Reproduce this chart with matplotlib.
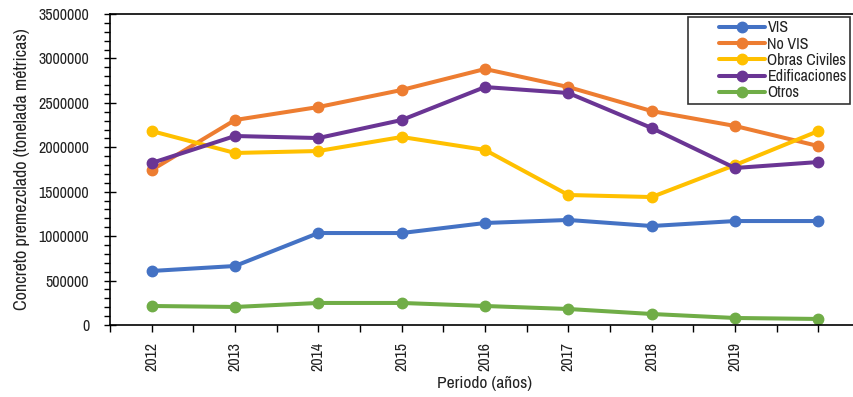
import matplotlib
matplotlib.use("Agg")
import matplotlib.pyplot as plt
from matplotlib.ticker import MultipleLocator, FixedLocator, FuncFormatter
from matplotlib.legend_handler import HandlerLine2D
import numpy as np

plt.rcParams['font.family'] = ["Archivo Narrow", "Roboto Condensed", "DejaVu Sans"]

years = ["2012", "2013", "2014", "2015", "2016", "2017", "2018", "2019", ""]
vis = [608000, 664000, 1035000, 1035000, 1148000, 1182000, 1114000, 1170000, 1170000]
no_vis = [1744000, 2307000, 2453000, 2645000, 2881000, 2678000, 2408000, 2240000, 2014000]
obras = [2183000, 1936000, 1958000, 2116000, 1970000, 1463000, 1440000, 1800000, 2183000]
edif = [1823000, 2127000, 2104000, 2307000, 2678000, 2611000, 2217000, 1767000, 1834000]
otros = [214000, 203000, 248000, 248000, 214000, 180000, 124000, 79000, 68000]

series = [("VIS", vis, "#4472C4"), ("No VIS", no_vis, "#ED7D31"),
          ("Obras Civiles", obras, "#FFC000"), ("Edificaciones", edif, "#6A3594"),
          ("Otros", otros, "#70AD47")]


class RightHandler(HandlerLine2D):
    def get_xdata(self, legend, xdescent, ydescent, width, height, fontsize):
        start = -xdescent + 0.38 * width
        end = -xdescent + width
        return np.array([start, end]), np.array([(start + end) / 2])


fig = plt.figure(figsize=(8.54, 3.97), dpi=100)
ax = fig.add_axes([110/854, 72/397, 750/854, 311/397])
x = list(range(len(years)))
for name, vals, c in series:
    ax.plot(x, vals, color=c, lw=2.9, marker="o", ms=7.5, label=name, solid_capstyle="round")

ax.set_xlim(-0.5, 8.5)
ax.set_ylim(0, 3500000)
ax.yaxis.set_major_locator(MultipleLocator(500000))
ax.yaxis.set_minor_locator(MultipleLocator(100000))
ax.yaxis.set_major_formatter(FuncFormatter(lambda v, p: f"{int(round(v))}"))
ax.set_xticks(x)
ax.set_xticklabels(years, rotation=90)
ax.xaxis.set_minor_locator(FixedLocator([i - 0.5 for i in range(len(years) + 1)]))
ax.tick_params(axis="x", which="both", direction="out", length=5, width=1, labelsize=11.5, pad=7,
               labelcolor="#222222")
ax.tick_params(axis="y", which="major", direction="inout", length=8, width=1, labelsize=11.5,
               labelcolor="#222222", pad=11)
ax.tick_params(axis="y", which="minor", direction="out", length=4, width=1)
for s in ["left", "bottom", "top"]:
    ax.spines[s].set_linewidth(1.2)
ax.spines["right"].set_visible(False)
ax.set_ylabel("Concreto premezclado (tonelada métricas)", fontsize=13, color="#222222", labelpad=6)
ax.set_xlabel("Periodo (años)", fontsize=12.5, labelpad=4, color="#222222")

leg = ax.legend(loc="upper right", bbox_to_anchor=(740/750, 0.99), fontsize=11.5, frameon=True, fancybox=False,
                edgecolor="black", handlelength=4.6, handletextpad=0.15, labelspacing=0.08,
                borderpad=0.2, borderaxespad=0,
                handler_map={plt.Line2D: RightHandler()})
leg.get_frame().set_linewidth(1.2)
for t in leg.get_texts():
    t.set_color("#222222")

fig.savefig("out.png", dpi=100)
